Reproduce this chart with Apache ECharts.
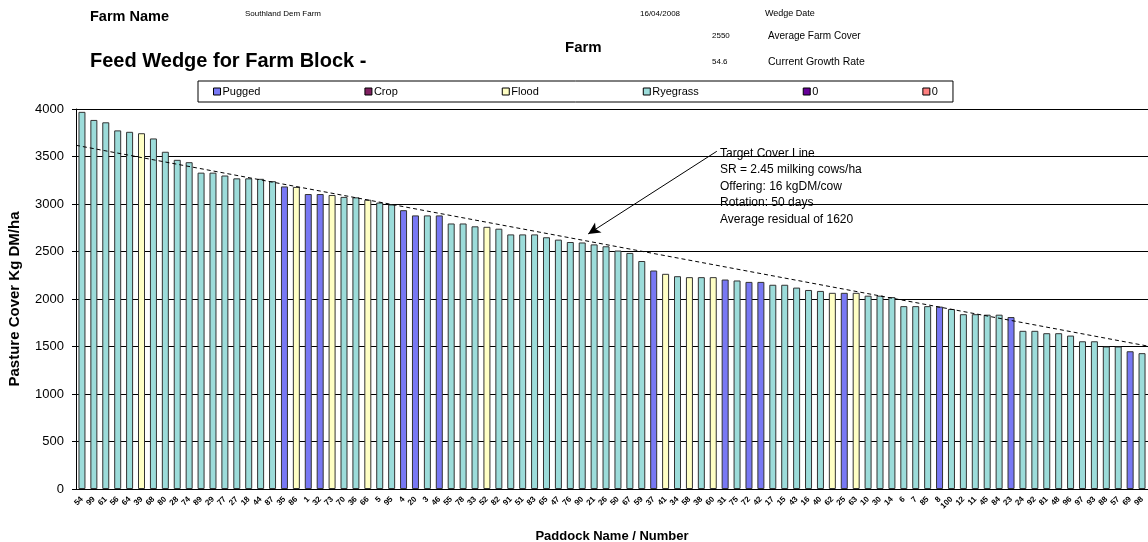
<!DOCTYPE html>
<html>
<head>
<meta charset="utf-8">
<script src="https://cdn.jsdelivr.net/npm/echarts@6/dist/echarts.min.js"></script>
<style>
  html, body { margin: 0; padding: 0; background: #fff; }
  #chart { width: 1148px; height: 542px; }
</style>
</head>
<body>
<div id="chart"></div>
<script>
// paddocks, sorted by cover (as in the wedge)
const paddocks = [
  "54", "99", "61", "56", "64", "39", "68", "80", "28", "74", "89", "29", "77", "27", "18", "44", "87",
  "35", "86", "1", "32", "73", "70", "36", "66", "5", "95", "4", "20", "3", "46", "55", "78", "33",
  "52", "82", "91", "51", "83", "65", "47", "76", "90", "21", "26", "50", "67", "59", "37", "41",
  "34", "58", "38", "60", "31", "75", "72", "42", "17", "15", "43", "16", "40", "62", "25", "63",
  "10", "30", "14", "6", "7", "85", "8", "100", "12", "11", "45", "84", "23", "24", "92", "81",
  "48", "96", "97", "93", "88", "57", "69", "98"
];

const covers = [
  3970, 3885, 3860, 3775, 3760, 3745, 3690, 3550, 3465, 3440, 3330, 3330, 3300, 3270, 3270, 3265, 3240,
  3185, 3180, 3105, 3105, 3095, 3075, 3070, 3045, 3015, 2995, 2935, 2880, 2880, 2880, 2795, 2795, 2765,
  2760, 2740, 2680, 2680, 2680, 2650, 2625, 2600, 2595, 2575, 2555, 2510, 2485, 2400, 2300, 2265,
  2240, 2230, 2230, 2230, 2205, 2195, 2180, 2180, 2150, 2150, 2120, 2095, 2085, 2065, 2065, 2065,
  2035, 2035, 2020, 1925, 1925, 1925, 1920, 1895, 1840, 1840, 1835, 1835, 1810, 1665, 1665, 1640,
  1640, 1615, 1555, 1555, 1500, 1500, 1450, 1430
];

// R = Ryegrass, P = Pugged, F = Flood
const coverTypes = [
  "R", "R", "R", "R", "R", "F", "R", "R", "R", "R", "R", "R", "R", "R", "R", "R", "R",
  "P", "F", "P", "P", "F", "R", "R", "F", "R", "R", "P", "P", "R", "P", "R", "R", "R",
  "F", "R", "R", "R", "R", "R", "R", "R", "R", "R", "R", "R", "R", "R", "P", "F",
  "R", "F", "R", "F", "P", "R", "P", "P", "R", "R", "R", "R", "R", "F", "P", "F",
  "R", "R", "R", "R", "R", "R", "P", "R", "R", "R", "R", "R", "P", "R", "R", "R",
  "R", "R", "R", "R", "R", "R", "P", "R"
];

// legend groups
const groupNames = ["Pugged", "Crop", "Flood", "Ryegrass", "0", "0\u200b"];
const groupCodes = ["P", "C", "F", "R", "X", "Y"];
const groupColors = ["#7878F4", "#7F2060", "#FFFFC4", "#9CDCDA", "#660099", "#FF8080"];

// target cover line, from left edge to right edge of the plot
const targetLine = [[0, 3618], [90, 1504]];
// arrow pointing at the target line
const arrowFrom = [53.8, 3555];
const arrowTo = [43.0, 2685];

const targetNote = [
  "Target Cover Line",
  "SR = 2.45 milking cows/ha",
  "Offering: 16 kgDM/cow",
  "Rotation: 50 days",
  "Average residual of 1620"
];

const FONT = "'Liberation Sans', Arial, sans-serif";

const chart = echarts.init(document.getElementById("chart"));

const headerText = (text, left, top, size, bold) => ({
  text: text,
  left: left,
  top: top,
  padding: 0,
  textStyle: { fontFamily: FONT, fontSize: size, fontWeight: bold ? "bold" : "normal", color: "#000" }
});

const barSeries = groupNames.map((name, gi) => ({
  name: name,
  type: "bar",
  xAxisIndex: 0,
  yAxisIndex: 0,
  barWidth: 7,
  barGap: "-100%",
  itemStyle: { color: groupColors[gi], borderColor: "#333", borderWidth: 1 },
  data: covers.map((v, i) => (coverTypes[i] === groupCodes[gi] ? v : "-"))
}));

const option = {
  animation: false,
  title: [
    headerText("Farm Name", 90, 9, 14.5, true),
    headerText("Southland Dem Farm", 245, 10, 8, false),
    headerText("16/04/2008", 640, 10, 8, false),
    headerText("Wedge Date", 765, 9, 9, false),
    headerText("2550", 712, 32, 8, false),
    headerText("Average Farm Cover", 768, 31, 10, false),
    headerText("Farm", 565, 40, 15, true),
    headerText("Feed Wedge for Farm Block -", 90, 51, 20, true),
    headerText("54.6", 712, 58, 8, false),
    headerText("Current Growth Rate", 768, 57, 10.5, false)
  ],
  legend: {
    data: groupNames,
    left: 198,
    top: 81,
    padding: [5, 15, 5, 15],
    itemGap: 104,
    itemWidth: 7,
    itemHeight: 7,
    icon: "rect",
    borderColor: "#000",
    borderWidth: 1,
    itemStyle: { borderColor: "#000", borderWidth: 1 },
    textStyle: { fontFamily: FONT, fontSize: 11, color: "#000", padding: [0, 0, 0, -3] },
    formatter: (name) => name.replace("\u200b", "")
  },
  grid: { left: 76, right: 0, top: 109, bottom: 53, outerBoundsMode: "none", containLabel: false },
  xAxis: [
    {
      type: "category",
      data: paddocks,
      name: "Paddock Name / Number",
      nameLocation: "middle",
      nameGap: 41,
      nameTextStyle: { fontFamily: FONT, fontSize: 13, fontWeight: "bold", color: "#000" },
      axisLine: { lineStyle: { color: "#000" } },
      axisTick: { length: 4, lineStyle: { color: "#000" } },
      axisLabel: {
        interval: 0,
        rotate: 45,
        margin: 9,
        fontFamily: FONT,
        fontSize: 8,
        fontWeight: "bold",
        color: "#000"
      }
    },
    { type: "value", min: 0, max: 90, show: false }
  ],
  yAxis: {
    type: "value",
    min: 0,
    max: 4000,
    interval: 500,
    name: "Pasture Cover Kg DM/ha",
    nameLocation: "middle",
    nameGap: 54,
    nameTextStyle: { fontFamily: FONT, fontSize: 15, fontWeight: "bold", color: "#000" },
    axisLine: { show: true, lineStyle: { color: "#000" } },
    axisTick: { show: true, length: 4, lineStyle: { color: "#000" } },
    axisLabel: { fontFamily: FONT, fontSize: 13, color: "#000", margin: 12, formatter: (v) => String(v) },
    splitLine: { lineStyle: { color: "#000", width: 1 } }
  },
  graphic: [
    {
      type: "text",
      left: 720,
      top: 145,
      style: {
        text: targetNote.join("\n"),
        fontFamily: FONT,
        fontSize: 12,
        lineHeight: 16.5,
        fill: "#000"
      },
      z: 10
    }
  ],
  series: barSeries.concat([
    {
      name: "Target",
      type: "line",
      xAxisIndex: 1,
      yAxisIndex: 0,
      data: targetLine,
      symbol: "none",
      lineStyle: { color: "#000", width: 1, type: [4, 3] },
      z: 5,
      markLine: {
        silent: true,
        symbol: ["none", "arrow"],
        symbolSize: [9, 12],
        lineStyle: { color: "#000", width: 1, type: "solid" },
        label: { show: false },
        data: [[{ coord: arrowFrom }, { coord: arrowTo }]]
      }
    }
  ])
};

chart.setOption(option);
</script>
</body>
</html>
